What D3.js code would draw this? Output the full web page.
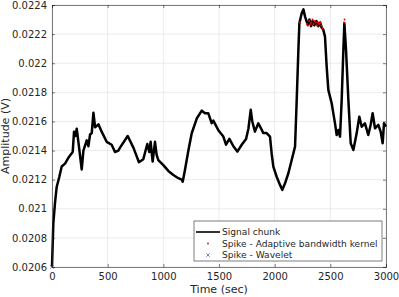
<!DOCTYPE html>
<html>
<head>
<meta charset="utf-8">
<script src="https://cdn.jsdelivr.net/npm/d3@7"></script>
<style>
  body { margin: 0; background: #fff; }
  text { font-family: "DejaVu Sans", sans-serif; fill: #262626; }
</style>
</head>
<body>
<svg id="chart"></svg>
<script>
// signal chunk
const timeSec = [0, 12, 27, 42, 66, 87, 117, 147, 186, 198, 210, 222, 237, 267, 282, 312, 327, 342, 357, 372,
  387, 417, 446, 491, 536, 566, 596, 611, 680, 731, 781, 820, 856, 874, 886, 904, 925, 940, 955, 1000,
  1045, 1090, 1135, 1165, 1174, 1195, 1225, 1255, 1300, 1345, 1374, 1404, 1434, 1449, 1494, 1539, 1563, 1593, 1629, 1665,
  1704, 1743, 1764, 1785, 1799, 1823, 1853, 1877, 1898, 1928, 1958, 1973, 1988, 2018, 2048, 2069, 2093, 2123, 2153, 2183,
  2198, 2213, 2222, 2243, 2258, 2273, 2297, 2312, 2327, 2340, 2356, 2375, 2392, 2408, 2422, 2437, 2452, 2467, 2482, 2512, 2542, 2557, 2572, 2587,
  2602, 2617, 2626, 2641, 2662, 2683, 2707, 2737, 2760, 2782, 2811, 2841, 2862, 2880, 2901, 2931, 2952, 2970, 2982, 3000]
const amplitude = [0.0206, 0.0209, 0.02104, 0.02115, 0.02122, 0.02129, 0.02131, 0.02135, 0.02139, 0.02153, 0.0215, 0.02155, 0.02146, 0.02127, 0.0214, 0.02147, 0.02143, 0.02151, 0.02152, 0.02166,
  0.02156, 0.02158, 0.02153, 0.02146, 0.02144, 0.02139, 0.0214, 0.02142, 0.0215, 0.02142, 0.02132, 0.02134, 0.021445, 0.02139, 0.02146, 0.021324, 0.02146, 0.02137, 0.021335, 0.0213,
  0.02126, 0.021232, 0.02121, 0.0212, 0.021186, 0.02127, 0.0214, 0.021519, 0.02162, 0.021674, 0.021656, 0.021656, 0.021588, 0.021606, 0.02154, 0.021496, 0.02144, 0.02148, 0.02143, 0.021393,
  0.02144, 0.02148, 0.02155, 0.02168, 0.0216, 0.02153, 0.021587, 0.021553, 0.02152, 0.02152, 0.021496, 0.02138, 0.02129, 0.02122, 0.021164, 0.02113, 0.021175, 0.021244, 0.021335, 0.021427,
  0.021748, 0.022091, 0.022275, 0.022343, 0.02237, 0.02232, 0.022263, 0.02230, 0.022255, 0.02229, 0.02226, 0.02229, 0.022255, 0.02228, 0.022245, 0.022229, 0.022183, 0.021977, 0.021817, 0.021725, 0.021587, 0.021507, 0.021541, 0.021496,
  0.021748, 0.022091, 0.022275, 0.022091, 0.021748, 0.02145, 0.021404, 0.02152, 0.021633, 0.021564, 0.021587, 0.021507, 0.021576, 0.021656, 0.021553, 0.021576, 0.02153, 0.02145, 0.021587, 0.021564]

// spikes
const kernelSpikeTime = [2228, 2290, 2300, 2310, 2320, 2330, 2340, 2350, 2360, 2370, 2380, 2390, 2400, 2410, 2420, 2430, 2622, 2628]
const kernelSpikeAmp = [0.02228, 0.02227, 0.02226, 0.02229, 0.02227, 0.02228, 0.0223, 0.02227, 0.02229, 0.02228, 0.02226, 0.02228, 0.02227, 0.02228, 0.02226, 0.02224, 0.02228, 0.0223]
const waveletSpikeTime = [0]
const waveletSpikeAmp = [0.0206]

const xTicks = [0, 500, 1000, 1500, 2000, 2500, 3000]
const yTicks = [0.0206, 0.0208, 0.021, 0.0212, 0.0214, 0.0216, 0.0218, 0.022, 0.0222, 0.0224]
const legendLabels = ["Signal chunk", "Spike - Adaptive bandwidth kernel", "Spike - Wavelet"]

function drawChart() {
  const svgWidth = 399
  const svgHeight = 297
  const margin = ({top: 5, right: 13, bottom: 30, left: 52})
  const width = svgWidth - margin.left - margin.right
  const height = svgHeight - margin.top - margin.bottom

  const svg = d3.select("#chart").attr("width", svgWidth).attr("height", svgHeight)

  const xScale = d3.scaleLinear().domain([0, 3000]).range([0, width])
  const yScale = d3.scaleLinear().domain([0.0206, 0.0224]).range([height, 0])

  const plot = svg.append("g").attr("transform", `translate(${margin.left}, ${margin.top})`)

  // grid
  plot.append("g").selectAll("line").data(xTicks).join("line")
    .attr("x1", d => xScale(d)).attr("x2", d => xScale(d))
    .attr("y1", 0).attr("y2", height)
    .attr("stroke", "#e6e6e6").attr("stroke-width", 0.8)
  plot.append("g").selectAll("line").data(yTicks).join("line")
    .attr("y1", d => yScale(d)).attr("y2", d => yScale(d))
    .attr("x1", 0).attr("x2", width)
    .attr("stroke", "#e6e6e6").attr("stroke-width", 0.8)

  // signal
  const pts = timeSec.map((t, i) => [t, amplitude[i]])
  const line = d3.line().x(d => xScale(d[0])).y(d => yScale(d[1]))
  plot.append("path").datum(pts)
    .attr("d", line)
    .attr("fill", "none").attr("stroke", "#000").attr("stroke-width", 2.5)
    .attr("stroke-linejoin", "round")

  // kernel spikes
  plot.append("g").selectAll("circle").data(kernelSpikeTime).join("circle")
    .attr("cx", d => xScale(d)).attr("cy", (d, i) => yScale(kernelSpikeAmp[i]))
    .attr("r", 1).attr("fill", "#ff0000")

  // wavelet spikes
  plot.append("g").selectAll("path").data(waveletSpikeTime).join("path")
    .attr("transform", (d, i) => `translate(${xScale(d)},${yScale(waveletSpikeAmp[i])}) rotate(45)`)
    .attr("d", "M-2.5,0H2.5M0,-2.5V2.5")
    .attr("stroke", "#6666cc").attr("stroke-width", 0.8)

  // axes, ticks inside, box
  const axisColor = "#262626"
  const xAxis = plot.append("g").attr("transform", `translate(0, ${height})`)
    .call(d3.axisBottom(xScale).tickValues(xTicks).tickSize(-3).tickPadding(6).tickFormat(d3.format("d")))
  const yAxis = plot.append("g")
    .call(d3.axisLeft(yScale).tickValues(yTicks).tickSize(-3).tickPadding(5).tickFormat(d => +d.toFixed(4)))
  const xTop = plot.append("g").call(d3.axisTop(xScale).tickValues(xTicks).tickSize(-3).tickFormat(""))
  const yRight = plot.append("g").attr("transform", `translate(${width}, 0)`)
    .call(d3.axisRight(yScale).tickValues(yTicks).tickSize(-3).tickFormat(""))
  for (const a of [xAxis, yAxis, xTop, yRight]) {
    a.select(".domain").attr("stroke", axisColor).attr("stroke-width", 0.6)
    a.selectAll(".tick line").attr("stroke", axisColor).attr("stroke-width", 0.6)
    a.selectAll("text").attr("font-size", 10).attr("fill", axisColor).attr("font-family", "DejaVu Sans")
  }

  // axis titles
  svg.append("text")
    .attr("x", margin.left + width / 2).attr("y", 293)
    .attr("text-anchor", "middle").attr("font-size", 11)
    .text("Time (sec)")
  svg.append("text")
    .attr("transform", `translate(9, ${margin.top + height / 2}) rotate(-90)`)
    .attr("text-anchor", "middle").attr("font-size", 11)
    .text("Amplitude (V)")

  // legend
  const lg = svg.append("g").attr("transform", "translate(194, 221)")
  lg.append("rect").attr("width", 188).attr("height", 40)
    .attr("fill", "#fff").attr("stroke", axisColor).attr("stroke-width", 0.6)
  const rowY = [11, 22.5, 34]
  lg.append("line").attr("x1", 2).attr("x2", 26).attr("y1", rowY[0]).attr("y2", rowY[0])
    .attr("stroke", "#000").attr("stroke-width", 1.6)
  lg.append("circle").attr("cx", 14).attr("cy", rowY[1]).attr("r", 0.9).attr("fill", "#ff0000")
  lg.append("path").attr("transform", `translate(14, ${rowY[2]}) rotate(45)`)
    .attr("d", "M-2.5,0H2.5M0,-2.5V2.5").attr("stroke", "#6666cc").attr("stroke-width", 0.8)
  lg.selectAll("text.lab").data(legendLabels).join("text")
    .attr("class", "lab")
    .attr("x", 28).attr("y", (d, i) => rowY[i])
    .attr("dy", "0.35em").attr("font-size", 9.1)
    .text(d => d)
}

drawChart()
</script>
</body>
</html>
